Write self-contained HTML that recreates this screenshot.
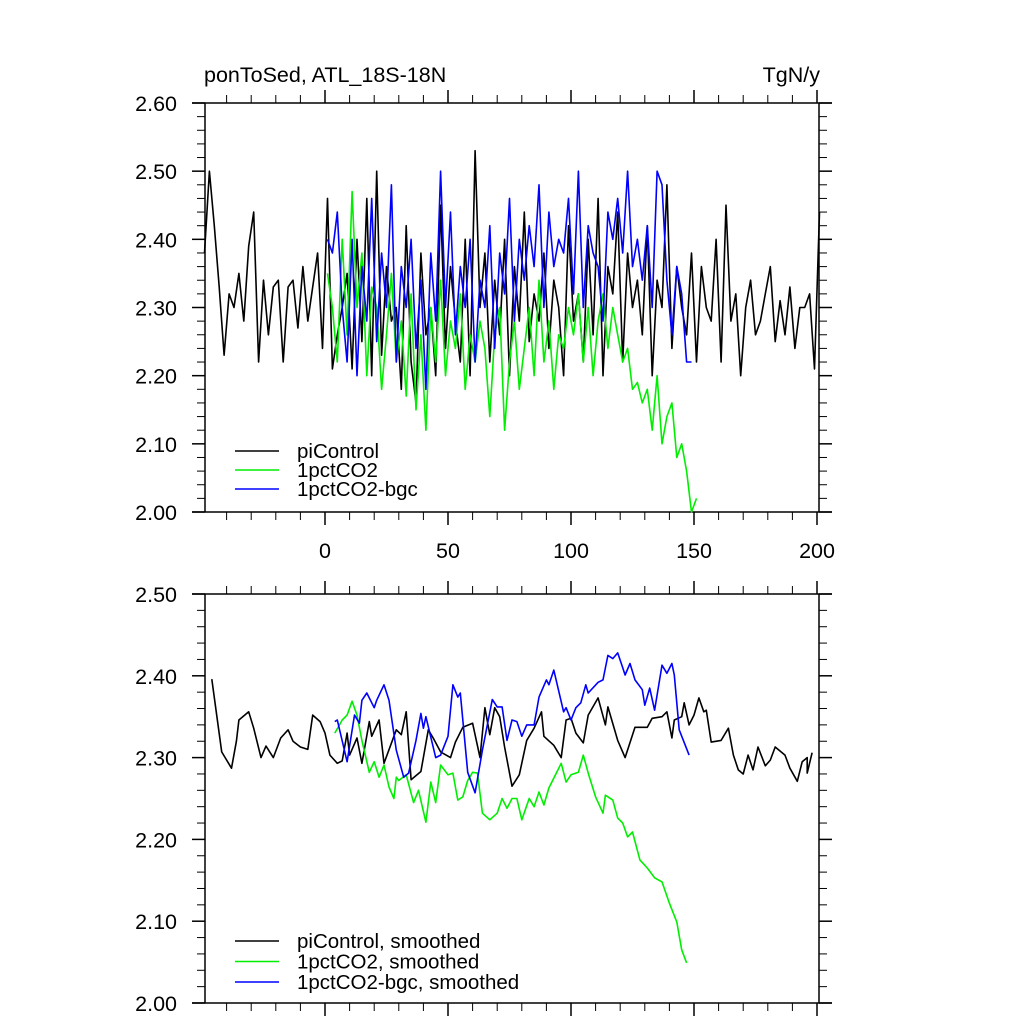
<!DOCTYPE html>
<html><head><meta charset="utf-8"><style>
html,body{margin:0;padding:0;background:#fff}
svg text{font-family:"Liberation Sans",sans-serif;fill:#000}
</style></head><body>
<svg id="chart" width="1024" height="1024" viewBox="0 0 1024 1024" xmlns="http://www.w3.org/2000/svg">
<text x="204" y="82" font-size="21.5">ponToSed, ATL_18S-18N</text>
<text x="820" y="82" font-size="21.5" text-anchor="end">TgN/y</text>
<g id="top"></g>
<g id="bot"></g>
</svg>
<script>
// ---- data ----
const piStart = -49, piStep = 2;
const piValues = [2.38,2.50,2.42,2.33,2.23,2.32,2.30,2.35,2.28,2.39,2.44,2.22,2.34,2.26,2.33,2.34,2.22,2.33,2.34,2.27,2.36,2.28,2.33,2.38,2.24,2.46,2.21,
2.26,2.30,2.35,2.21,2.40,2.25,2.46,2.20,2.50,2.23,2.36,2.28,2.30,2.18,2.42,2.22,2.16,2.38,2.26,2.30,2.20,2.45,2.24,2.36,2.28,2.22,2.40,2.20,2.53,2.30,2.38,2.22,2.34,2.26,2.40,2.20,2.36,2.28,2.44,2.25,2.32,2.28,2.38,2.24,2.34,2.30,2.20,2.42,2.28,2.32,2.22,2.40,2.26,2.46,2.20,2.36,2.32,2.44,2.22,2.38,2.30,2.34,2.26,2.42,2.20,2.34,2.30,2.48,2.24,2.36,2.30,2.26,2.38,2.22,2.36,2.30,2.28,2.40,2.22,2.45,2.28,2.32,2.20,2.30,2.34,2.26,2.28,2.32,2.36,2.25,2.31,2.26,2.33,2.24,2.30,2.30,2.32,2.21,2.44];
const co2Start = 1, co2Step = 2;
const co2Values = [2.35,2.30,2.22,2.40,2.26,2.47,2.30,2.38,2.20,2.33,2.30,2.18,2.26,2.35,2.22,2.28,2.17,2.32,2.15,2.26,2.12,2.30,2.22,2.34,2.20,2.28,2.24,2.32,2.18,2.26,2.22,2.28,2.24,2.14,2.26,2.30,2.12,2.22,2.28,2.18,2.24,2.30,2.20,2.34,2.22,2.28,2.18,2.26,2.24,2.30,2.26,2.32,2.22,2.30,2.20,2.28,2.32,2.24,2.30,2.26,2.22,2.24,2.18,2.19,2.16,2.18,2.12,2.20,2.10,2.14,2.16,2.08,2.10,2.06,2.00,2.02];
const bgcStart = 1, bgcStep = 2;
const bgcValues = [2.40,2.38,2.44,2.30,2.22,2.40,2.20,2.36,2.28,2.46,2.25,2.38,2.30,2.48,2.22,2.36,2.30,2.40,2.24,2.34,2.18,2.38,2.28,2.50,2.30,2.44,2.26,2.36,2.30,2.40,2.22,2.34,2.30,2.42,2.24,2.38,2.32,2.46,2.28,2.40,2.34,2.42,2.36,2.48,2.30,2.44,2.36,2.40,2.38,2.46,2.32,2.50,2.30,2.42,2.38,2.36,2.28,2.44,2.40,2.46,2.38,2.50,2.36,2.40,2.34,2.42,2.30,2.50,2.48,2.34,2.26,2.36,2.32,2.22,2.22];

const piSmYears = [-46,-42,-38,-36,-35,-31,-29,-26,-24,-21,-18,-15,-13,-10,-7,-5,-2,0,2,5,7,9,10,13,15,18,19,22,24,29,31,33,35,39,42,44,47,51,53,56,60,63,65,67,69,71,73,76,79,82,85,88,89,93,96,98,100,102,105,107,111,114,115,119,122,126,131,133,137,139,141,142,145,146,148,150,152,154,155,157,161,164,166,168,170,172,174,176,179,181,183,187,189,192,194,196,196,198];
const piSmValues = [2.396,2.307,2.287,2.320,2.346,2.356,2.336,2.300,2.314,2.300,2.324,2.334,2.320,2.313,2.310,2.352,2.344,2.330,2.303,2.293,2.296,2.330,2.303,2.324,2.293,2.344,2.326,2.346,2.293,2.334,2.328,2.356,2.273,2.283,2.334,2.324,2.307,2.300,2.319,2.337,2.342,2.300,2.361,2.328,2.361,2.350,2.313,2.265,2.279,2.321,2.336,2.356,2.326,2.315,2.300,2.346,2.348,2.330,2.318,2.352,2.373,2.340,2.362,2.321,2.300,2.337,2.337,2.348,2.350,2.356,2.324,2.346,2.350,2.367,2.340,2.352,2.373,2.356,2.358,2.319,2.321,2.336,2.303,2.285,2.280,2.303,2.285,2.313,2.290,2.297,2.313,2.303,2.287,2.271,2.295,2.300,2.281,2.306];
const co2SmYears = [4,7,9,11,13,15,18,20,22,24,26,28,29,30,33,36,38,41,43,45,47,50,52,54,56,58,60,62,64,67,70,72,74,76,78,80,83,85,87,89,91,93,96,98,100,103,105,107,110,113,114,117,119,121,123,125,128,131,134,137,140,143,145,147];
const co2SmValues = [2.330,2.346,2.352,2.369,2.352,2.321,2.282,2.295,2.276,2.291,2.264,2.250,2.276,2.272,2.279,2.245,2.260,2.221,2.270,2.245,2.291,2.279,2.281,2.248,2.252,2.272,2.282,2.281,2.232,2.224,2.232,2.250,2.238,2.250,2.250,2.224,2.250,2.240,2.258,2.242,2.263,2.275,2.293,2.270,2.279,2.282,2.303,2.281,2.252,2.232,2.254,2.248,2.226,2.220,2.203,2.209,2.175,2.165,2.153,2.148,2.122,2.099,2.065,2.049];
const bgcSmYears = [4,5,9,12,14,15,17,20,21,24,26,29,32,34,37,39,40,41,45,47,50,52,54,55,58,61,64,68,70,72,74,76,78,80,82,85,87,90,91,93,97,98,100,102,104,106,107,111,113,115,117,119,121,122,124,126,129,130,132,134,137,139,141,142,144,148];
const bgcSmValues = [2.344,2.346,2.295,2.352,2.342,2.370,2.379,2.361,2.370,2.389,2.370,2.309,2.276,2.281,2.321,2.354,2.336,2.350,2.300,2.303,2.326,2.389,2.374,2.379,2.282,2.257,2.309,2.371,2.362,2.362,2.321,2.346,2.344,2.326,2.340,2.340,2.374,2.395,2.389,2.407,2.356,2.361,2.346,2.361,2.367,2.389,2.379,2.392,2.395,2.425,2.421,2.428,2.410,2.401,2.415,2.395,2.383,2.364,2.385,2.358,2.413,2.403,2.415,2.401,2.334,2.303];

const xTickLabels = ["0","50","100","150","200"];
const topYLabels = ["2.00","2.10","2.20","2.30","2.40","2.50","2.60"];
const botYLabels = ["2.00","2.10","2.20","2.30","2.40","2.50"];
const topLegend = ["piControl","1pctCO2","1pctCO2-bgc"];
const botLegend = ["piControl, smoothed","1pctCO2, smoothed","1pctCO2-bgc, smoothed"];
const colors = ["#000000","#00ee00","#0000ff"];

// ---- drawing ----
const NS = "http://www.w3.org/2000/svg";
const X0 = 325, XS = 2.46;
const xAt = yr => X0 + yr * XS;
function mk(parent, tag, attrs){ const e=document.createElementNS(NS,tag); for(const k in attrs) e.setAttribute(k,attrs[k]); parent.appendChild(e); return e; }

function panel(g, top, bottom, ymin, ymax, ylabels, showX, name){
  const yAt = v => bottom - (v - ymin) / (ymax - ymin) * (bottom - top);
  const L=205, R=819;
  let e;
  e = mk(g,"line",{x1:192,x2:832,y1:top,y2:top,stroke:"#000","stroke-width":1.5});
   
  e = mk(g,"line",{x1:192,x2:832,y1:bottom,y2:bottom,stroke:"#000","stroke-width":1.5});
   
  e = mk(g,"line",{x1:L,x2:L,y1:top,y2:bottom,stroke:"#000","stroke-width":1.5});
   
  e = mk(g,"line",{x1:R,x2:R,y1:top,y2:bottom,stroke:"#000","stroke-width":1.5});
   
  for(let yr=-40; yr<=200; yr+=10){
    const x=xAt(yr), major = yr%50===0, len = major?13:8;
    e = mk(g,"line",{x1:x,x2:x,y1:top,y2:top-len,stroke:"#000","stroke-width":major?1.5:1});
     
    e = mk(g,"line",{x1:x,x2:x,y1:bottom,y2:bottom+len,stroke:"#000","stroke-width":major?1.5:1});
     
  }
  if(showX){
    xTickLabels.forEach(t=>{
      const tx = mk(g,"text",{x:xAt(+t),y:bottom+46,"font-size":21.5,"text-anchor":"middle"});
      tx.textContent=t;
       
    });
  }
  const n = Math.round((ymax-ymin)/0.02);
  for(let i=0;i<=n;i++){
    const v=ymin+i*0.02, y=yAt(v), major=i%5===0, len=major?13:8;
    e = mk(g,"line",{x1:L,x2:L-len,y1:y,y2:y,stroke:"#000","stroke-width":major?1.5:1});
     
    e = mk(g,"line",{x1:R,x2:R+len,y1:y,y2:y,stroke:"#000","stroke-width":major?1.5:1});
     
  }
  ylabels.forEach(t=>{
    const tx = mk(g,"text",{x:177,y:yAt(+t)+8,"font-size":21.5,"text-anchor":"end"});
    tx.textContent=t;
     
  });
  return yAt;
}

function series(g, xs, vs, yAt, color, name){
  const pts = vs.map((v,i)=>xAt(xs[i]).toFixed(1)+","+yAt(v).toFixed(1)).join(" ");
  const p = mk(g,"polyline",{points:pts,fill:"none",stroke:color,"stroke-width":1.6,"stroke-linejoin":"round"});
  
  
}
function legend(g, labels, y0, dy){
  labels.forEach((t,i)=>{
    const y=y0+i*dy;
    const l = mk(g,"line",{x1:235,x2:279,y1:y,y2:y,stroke:colors[i],"stroke-width":1.6});
    
    
    const tx = mk(g,"text",{x:297,y:y+7,"font-size":20.5});
    tx.textContent=t;
    
    
  });
}
const seq = (s,st,n)=>Array.from({length:n},(_,i)=>s+i*st);

const gt = document.getElementById("top");
const yT = panel(gt, 103, 512, 2.0, 2.6, topYLabels, true, "top");
series(gt, seq(piStart,piStep,piValues.length), piValues, yT, colors[0], "picontrol-line");
series(gt, seq(co2Start,co2Step,co2Values.length), co2Values, yT, colors[1], "1pctco2-line");
series(gt, seq(bgcStart,bgcStep,bgcValues.length), bgcValues, yT, colors[2], "1pctco2-bgc-line");
legend(gt, topLegend, 451, 19);

const gb = document.getElementById("bot");
const yB = panel(gb, 594, 1003, 2.0, 2.5, botYLabels, false, "bottom");
series(gb, piSmYears, piSmValues, yB, colors[0], "picontrol-smoothed-line");
series(gb, co2SmYears, co2SmValues, yB, colors[1], "1pctco2-smoothed-line");
series(gb, bgcSmYears, bgcSmValues, yB, colors[2], "1pctco2-bgc-smoothed-line");
legend(gb, botLegend, 941, 20.5);
</script>
</body></html>
